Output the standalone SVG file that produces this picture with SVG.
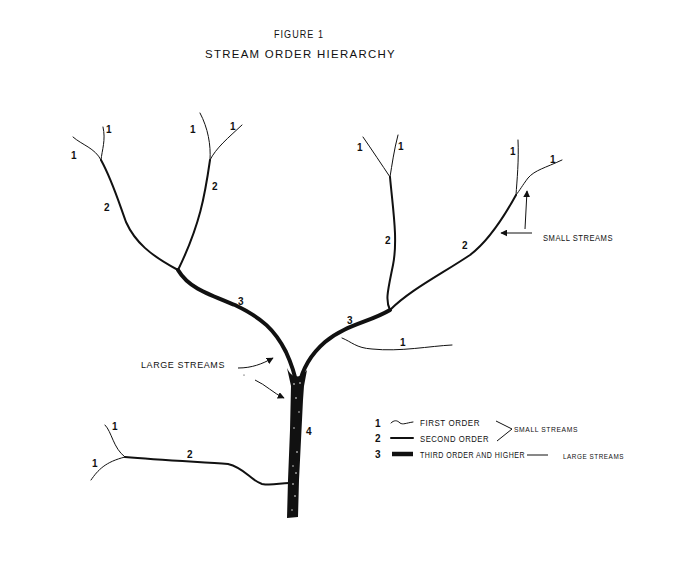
<svg xmlns="http://www.w3.org/2000/svg" width="676" height="567" viewBox="0 0 676 567">
<defs>
<marker id="ah" viewBox="0 0 10 10" refX="9" refY="5" markerWidth="7" markerHeight="7" orient="auto" markerUnits="userSpaceOnUse"><path d="M0,0 L10,5 L0,10 z" fill="#111"/></marker>
<style>
text{font-family:"Liberation Sans",Arial,sans-serif;fill:#111}
.t{font-size:10.5px;letter-spacing:1.2px}
.n{font-size:10px;font-weight:bold}
.lg{font-size:9px;letter-spacing:0.6px}
.sm{font-size:7px;letter-spacing:0.6px}
.s1{fill:none;stroke:#111;stroke-width:1;stroke-linecap:round}
.s2{fill:none;stroke:#111;stroke-width:2;stroke-linecap:round}
.s3{fill:none;stroke:#111;stroke-width:4;stroke-linecap:round}
.ar{fill:none;stroke:#111;stroke-width:1}
</style>
</defs>
<rect width="676" height="567" fill="#fff"/>
<g id="title">
<text class="t" x="274" y="38" textLength="50" lengthAdjust="spacingAndGlyphs">FIGURE 1</text>
<text class="t" x="205" y="58" textLength="191" lengthAdjust="spacingAndGlyphs">STREAM ORDER HIERARCHY</text>
</g>
<g id="streams">
<path class="s1" d="M73,137 C82,145 95,148 101,160"/>
<path class="s1" d="M103,127 C106,140 102,150 101,160"/>
<path class="s2" d="M101,160 C112,180 118,200 126,222 C135,242 150,255 178,270"/>
<path class="s1" d="M200,113 C208,128 211,145 210,160"/>
<path class="s1" d="M242,125 C228,138 216,148 210,160"/>
<path class="s2" d="M210,160 C205,195 200,225 178,270"/>
<path class="s3" d="M178,270 C188,287 205,293 235,305 C262,318 275,330 286,352 C292,365 295,375 297,386"/>
<path class="s1" d="M363,137 C372,150 382,165 390,177"/>
<path class="s1" d="M398,135 C394,150 392,165 390,177"/>
<path class="s2" d="M390,177 C393,210 398,240 393,265 C388,290 385,300 390,310"/>
<path class="s1" d="M518,140 C519,160 517,180 516,195"/>
<path class="s1" d="M562,160 C545,168 535,170 528,178 C522,186 520,190 516,195"/>
<path class="s2" d="M516,195 C505,215 490,240 470,255 C440,275 410,290 390,310"/>
<path class="s3" d="M390,310 C370,322 345,325 325,342 C310,355 302,370 299,386"/>
<path class="s1" d="M342,338 C352,342 356,348 372,349 C400,352 430,346 452,345"/>
<path d="M287,368 C292,378 298,380 307,370 L304,386 L303,400 L301,440 L299,480 L298,517 L287,518 L288,480 L290,430 L291,386 Z" fill="#111"/>
<path class="s1" d="M105,425 C112,432 113,448 125,457"/>
<path class="s1" d="M91,480 C98,470 105,462 125,457"/>
<path class="s2" d="M125,457 C160,460 200,462 228,464 C245,468 250,480 262,484 C272,486 280,483 289,483"/>
<g fill="#fff">
<circle cx="294" cy="384" r="0.8"/><circle cx="300" cy="383" r="0.8"/><circle cx="296" cy="398" r="0.8"/><circle cx="299" cy="412" r="0.7"/><circle cx="294" cy="428" r="0.7"/><circle cx="297" cy="452" r="0.8"/><circle cx="293" cy="466" r="0.7"/><circle cx="296" cy="473" r="0.8"/><circle cx="293" cy="484" r="0.8"/><circle cx="295" cy="496" r="0.8"/><circle cx="292" cy="510" r="0.7"/>
</g>
</g>
<g id="labels">
<text class="n" x="106" y="133">1</text>
<text class="n" x="71" y="159">1</text>
<text class="n" x="104" y="211">2</text>
<text class="n" x="190" y="133">1</text>
<text class="n" x="230" y="130">1</text>
<text class="n" x="212" y="190">2</text>
<text class="n" x="238" y="305">3</text>
<text class="n" x="357" y="151">1</text>
<text class="n" x="398" y="150">1</text>
<text class="n" x="385" y="244">2</text>
<text class="n" x="510" y="155">1</text>
<text class="n" x="550" y="163">1</text>
<text class="n" x="462" y="249">2</text>
<text class="n" x="347" y="324">3</text>
<text class="n" x="400" y="346">1</text>
<text class="n" x="306" y="435">4</text>
<text class="n" x="112" y="430">1</text>
<text class="n" x="92" y="467">1</text>
<text class="n" x="187" y="458">2</text>
</g>
<g id="annotations">
<text class="lg" x="141" y="368" textLength="84" lengthAdjust="spacingAndGlyphs">LARGE STREAMS</text>
<path class="ar" d="M238,368 C252,368 262,364 273,358" marker-end="url(#ah)"/>
<path class="ar" d="M255,380 C266,385 273,393 284,398" marker-end="url(#ah)"/>
<circle cx="244" cy="375" r="0.6" fill="#111"/>
<text class="lg" x="543" y="241" textLength="70" lengthAdjust="spacingAndGlyphs">SMALL STREAMS</text>
<path class="ar" d="M532,233 L501,233" marker-end="url(#ah)"/>
<path class="ar" d="M525,229 L527,191" marker-end="url(#ah)"/>
</g>
<g id="legend">
<text class="n" x="375" y="427">1</text>
<path class="s1" d="M391,423 C394,420 397,420 400,423 C403,425 406,423 413,422"/>
<text class="lg" x="420" y="426" textLength="60" lengthAdjust="spacingAndGlyphs">FIRST ORDER</text>
<text class="n" x="375" y="442">2</text>
<path class="s2" d="M391,438 L413,438" stroke-width="1.5"/>
<text class="lg" x="420" y="442" textLength="69" lengthAdjust="spacingAndGlyphs">SECOND ORDER</text>
<path class="ar" d="M496,421 L512,429 L497,441"/>
<text class="sm" x="514" y="432" textLength="64" lengthAdjust="spacingAndGlyphs">SMALL STREAMS</text>
<text class="n" x="375" y="458">3</text>
<path d="M392,454 L413,454" stroke="#111" stroke-width="4.5"/>
<text class="lg" x="420" y="458" textLength="105" lengthAdjust="spacingAndGlyphs">THIRD ORDER AND HIGHER</text>
<path class="ar" d="M527,455 L548,455"/>
<text class="sm" x="563" y="459" textLength="61" lengthAdjust="spacingAndGlyphs">LARGE STREAMS</text>
</g>
</svg>
